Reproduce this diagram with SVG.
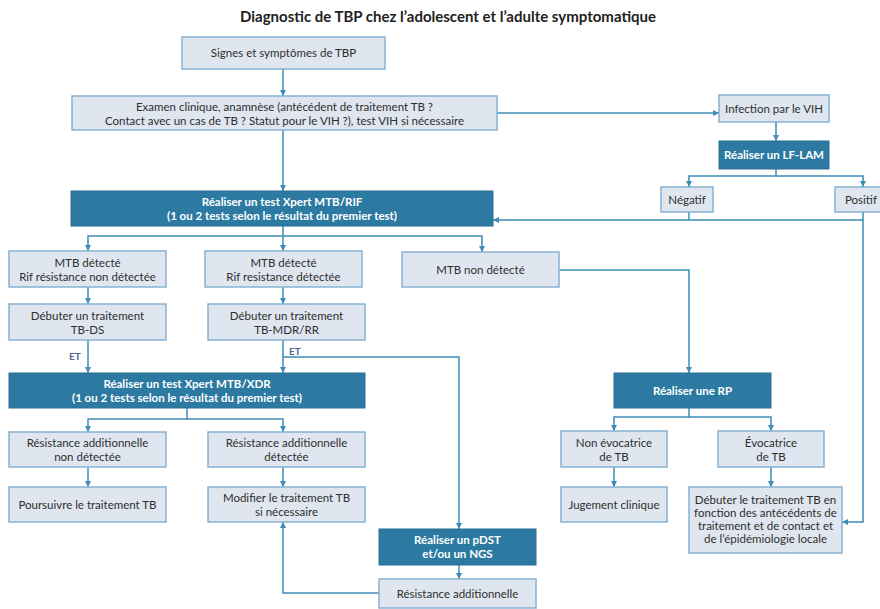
<svg xmlns="http://www.w3.org/2000/svg" width="880" height="609" viewBox="0 0 880 609">
<style>
.l{fill:#dfe6ef;stroke:#86b3d2;stroke-width:1.5}
.d{fill:#2c7aa1;stroke:#2a6f95;stroke-width:1}
.t{font-family:Lato,"Liberation Sans",sans-serif;font-size:11.5px;fill:#2e2e2e;text-anchor:middle}
.w{font-family:Lato,"Liberation Sans",sans-serif;font-size:11.5px;fill:#fff;font-weight:bold;text-anchor:middle}
.c{fill:none;stroke:#3f8cb8;stroke-width:1.5}
.et{font-family:Lato,"Liberation Sans",sans-serif;font-size:10px;font-weight:bold;fill:#4f6593}
</style>
<defs>
<marker id="a" markerUnits="userSpaceOnUse" markerWidth="7" markerHeight="7" refX="6" refY="3.5" orient="auto">
<path d="M0,0.5 L6,3.5 L0,6.5 z" fill="#3f8cb8"/>
</marker>
</defs>
<text x="448" y="22" style="font-family:Lato,'Liberation Sans',sans-serif;font-size:15px;font-weight:bold;fill:#222;text-anchor:middle">Diagnostic de TBP chez l’adolescent et l’adulte symptomatique</text>

<g id="connectors">
<path class="c" d="M283,69 V96" marker-end="url(#a)"/>
<path class="c" d="M497,113 H719" marker-end="url(#a)"/>
<path class="c" d="M776,122 V141" marker-end="url(#a)"/>
<path class="c" d="M776,169 V176 H689 V187" marker-end="url(#a)"/>
<path class="c" d="M776,176 H863 V187" marker-end="url(#a)"/>
<path class="c" d="M689,212 V220"/>
<path class="c" d="M863,212 V220 H493" marker-end="url(#a)"/>
<path class="c" d="M863,220 V522 H842" marker-end="url(#a)"/>
<path class="c" d="M283,130 V191" marker-end="url(#a)"/>
<path class="c" d="M283,226 V236 H88 V251" marker-end="url(#a)"/>
<path class="c" d="M283,236 V251" marker-end="url(#a)"/>
<path class="c" d="M283,236 H482 V252" marker-end="url(#a)"/>
<path class="c" d="M88,287 V304" marker-end="url(#a)"/>
<path class="c" d="M283,287 V304" marker-end="url(#a)"/>
<path class="c" d="M88,340 V373" marker-end="url(#a)"/>
<path class="c" d="M283,340 V373" marker-end="url(#a)"/>
<path class="c" d="M283,357 H459 V529" marker-end="url(#a)"/>
<path class="c" d="M559,270 H689 V373" marker-end="url(#a)"/>
<path class="c" d="M187,408 V419 H88 V432" marker-end="url(#a)"/>
<path class="c" d="M187,419 H283 V432" marker-end="url(#a)"/>
<path class="c" d="M88,467 V487" marker-end="url(#a)"/>
<path class="c" d="M283,467 V487" marker-end="url(#a)"/>
<path class="c" d="M459,565 V579" marker-end="url(#a)"/>
<path class="c" d="M379,593 H283 V522" marker-end="url(#a)"/>
<path class="c" d="M689,408 V417 H614 V431" marker-end="url(#a)"/>
<path class="c" d="M689,417 H771 V431" marker-end="url(#a)"/>
<path class="c" d="M614,467 V487" marker-end="url(#a)"/>
<path class="c" d="M771,467 V487" marker-end="url(#a)"/>
<text class="et" x="69" y="360">ET</text>
<text class="et" x="289" y="355">ET</text>
</g>

<g id="signes"><rect class="l" x="182" y="37" width="203" height="32"/><text class="t" x="283.5" y="57">Signes et symptômes de TBP</text></g>
<g id="examen"><rect class="l" x="72" y="96" width="425" height="34"/><text class="t" x="284.5" y="111">Examen clinique, anamnèse (antécédent de traitement TB ?</text><text class="t" x="284.5" y="125">Contact avec un cas de TB ? Statut pour le VIH ?), test VIH si nécessaire</text></g>
<g id="vih"><rect class="l" x="719" y="95" width="110" height="27"/><text class="t" x="774" y="112.5">Infection par le VIH</text></g>
<g id="lflam"><rect class="d" x="719" y="141" width="110" height="28"/><text class="w" x="774" y="159">Réaliser un LF-LAM</text></g>
<g id="negatif"><rect class="l" x="661" y="187" width="52" height="25"/><text class="t" x="687" y="203.5">Négatif</text></g>
<g id="positif"><rect class="l" x="835" y="187" width="52" height="25"/><text class="t" x="861" y="203.5">Positif</text></g>
<g id="xpert"><rect class="d" x="71" y="191" width="422" height="35"/><text class="w" x="282" y="206">Réaliser un test Xpert MTB/RIF</text><text class="w" x="282" y="220">(1 ou 2 tests selon le résultat du premier test)</text></g>
<g id="mtb1"><rect class="l" x="9" y="251" width="157" height="36"/><text class="t" x="87.5" y="267">MTB détecté</text><text class="t" x="87.5" y="281">Rif résistance non détectée</text></g>
<g id="mtb2"><rect class="l" x="205" y="251" width="157" height="36"/><text class="t" x="283.5" y="267">MTB détecté</text><text class="t" x="283.5" y="281">Rif resistance détectée</text></g>
<g id="mtb3"><rect class="l" x="402" y="252" width="157" height="35"/><text class="t" x="480.5" y="274">MTB non détecté</text></g>
<g id="tbds"><rect class="l" x="9" y="304" width="157" height="36"/><text class="t" x="87.5" y="320">Débuter un traitement</text><text class="t" x="87.5" y="334">TB-DS</text></g>
<g id="tbmdr"><rect class="l" x="208" y="304" width="157" height="36"/><text class="t" x="286.5" y="320">Débuter un traitement</text><text class="t" x="286.5" y="334">TB-MDR/RR</text></g>
<g id="xdr"><rect class="d" x="9" y="373" width="356" height="35"/><text class="w" x="187" y="388">Réaliser un test Xpert MTB/XDR</text><text class="w" x="187" y="402">(1 ou 2 tests selon le résultat du premier test)</text></g>
<g id="rp"><rect class="d" x="614" y="373" width="157" height="35"/><text class="w" x="692.5" y="395">Réaliser une RP</text></g>
<g id="resnon"><rect class="l" x="9" y="432" width="157" height="35"/><text class="t" x="87.5" y="447">Résistance additionnelle</text><text class="t" x="87.5" y="461">non détectée</text></g>
<g id="resdet"><rect class="l" x="208" y="432" width="157" height="35"/><text class="t" x="286.5" y="447">Résistance additionnelle</text><text class="t" x="286.5" y="461">détectée</text></g>
<g id="nonevoc"><rect class="l" x="561" y="431" width="106" height="36"/><text class="t" x="614" y="447">Non évocatrice</text><text class="t" x="614" y="461">de TB</text></g>
<g id="evoc"><rect class="l" x="718" y="431" width="106" height="36"/><text class="t" x="771" y="447">Évocatrice</text><text class="t" x="771" y="461">de TB</text></g>
<g id="poursuivre"><rect class="l" x="9" y="487" width="157" height="35"/><text class="t" x="87.5" y="509">Poursuivre le traitement TB</text></g>
<g id="modifier"><rect class="l" x="208" y="487" width="157" height="35"/><text class="t" x="286.5" y="502">Modifier le traitement TB</text><text class="t" x="286.5" y="516">si nécessaire</text></g>
<g id="jugement"><rect class="l" x="561" y="487" width="106" height="35"/><text class="t" x="614" y="509">Jugement clinique</text></g>
<g id="debuter"><rect class="l" x="689" y="487" width="153" height="66"/><text class="t" x="765.5" y="504">Débuter le traitement TB en</text><text class="t" x="765.5" y="517">fonction des antécédents de</text><text class="t" x="765.5" y="530">traitement et de contact et</text><text class="t" x="765.5" y="543">de l’épidémiologie locale</text></g>
<g id="pdst"><rect class="d" x="379" y="529" width="157" height="36"/><text class="w" x="457.5" y="544">Réaliser un pDST</text><text class="w" x="457.5" y="558">et/ou un NGS</text></g>
<g id="resadd"><rect class="l" x="379" y="579" width="157" height="29"/><text class="t" x="457.5" y="598">Résistance additionnelle</text></g>
</svg>
